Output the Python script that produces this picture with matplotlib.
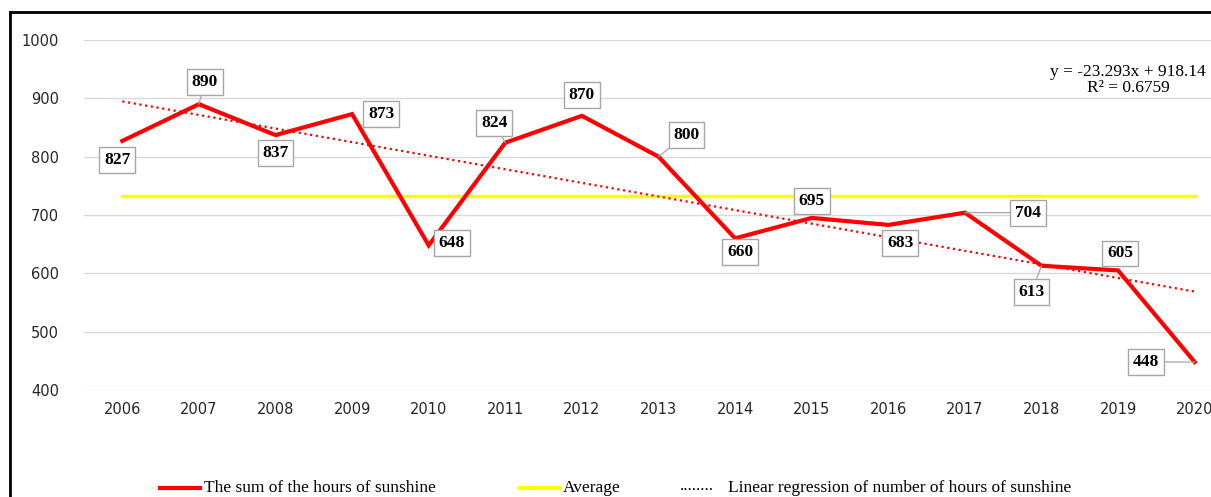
import matplotlib.pyplot as plt
from matplotlib.lines import Line2D

years = ["2006", "2007", "2008", "2009", "2010", "2011", "2012", "2013",
         "2014", "2015", "2016", "2017", "2018", "2019", "2020"]
sunshine = [827, 890, 837, 873, 648, 824, 870, 800, 660, 695, 683, 704, 613, 605, 448]
average = 731.8
trend_ends = [894.8, 568.7]  # regression line at 2006 and 2020
equation = "y = -23.293x + 918.14\nR² = 0.6759"
legend_labels = ["The sum of the hours of sunshine", "Average",
                 "Linear regression of number of hours of sunshine"]

# label offsets in pixels and whether a leader line is drawn
label_offsets = [(-5, -19), (6, 22), (0, -18), (29, 0), (23, 2), (-11, 20), (0, 21),
                 (28, 22), (5, -14), (0, 17), (12, -18), (63, 0), (-10, -26), (2, 17), (-49, 0)]
leaders = [False, True, False, False, False, True, False,
           True, False, False, False, True, True, False, True]

fig = plt.figure(figsize=(12.11, 4.97), dpi=100)
ax = fig.add_axes([84 / 1211, 1 - 390 / 497, 1149 / 1211, 350 / 497])

x = list(range(len(years)))
ax.plot(x, sunshine, color="#ff0000", lw=3, zorder=4, solid_joinstyle="miter")
ax.plot([x[0], x[-1]], [average, average], color="#ffff00", lw=2.5, zorder=3)
ax.plot([x[0], x[-1]], trend_ends, color="#ff0000", lw=1.6, ls=(0, (1, 1.6)), zorder=3)

for i, v in enumerate(sunshine):
    dx, dy = label_offsets[i]
    arrow = dict(arrowstyle="-", color="#a6a6a6", lw=0.9, shrinkA=0, shrinkB=0) if leaders[i] else None
    ax.annotate(str(v), (x[i], v), xytext=(dx, dy), textcoords="offset pixels",
                ha="center", va="center", fontsize=12.5, fontweight="bold",
                family="Liberation Serif", zorder=6, arrowprops=arrow,
                bbox=dict(boxstyle="square,pad=0.28", fc="white", ec="#a6a6a6", lw=1))

ax.set_xlim(-0.5, 14.5)
ax.set_ylim(400, 1000)
ax.set_yticks(range(400, 1001, 100))
ax.set_xticks(x)
ax.set_xticklabels(years)
ax.tick_params(length=0, labelsize=10.5, labelcolor="#262626", pad=9)
ax.tick_params(axis="y", pad=18)
ax.grid(axis="y", color="#d9d9d9", lw=1)
ax.set_axisbelow(True)
for s in ax.spines.values():
    s.set_visible(False)

fig.text(1128 / 1211, 1 - 80 / 497, equation, ha="center", va="center",
         fontsize=12.5, family="Liberation Serif", linespacing=0.95)

# figure frame (left and top edges)
fig.add_artist(Line2D([10 / 1211, 10 / 1211], [0, 1 - 12 / 497], color="black", lw=2))
fig.add_artist(Line2D([10 / 1211, 1], [1 - 12 / 497, 1 - 12 / 497], color="black", lw=2))

# legend at bottom
ly = 1 - 488 / 497
fig.add_artist(Line2D([160 / 1211, 200 / 1211], [ly, ly], color="#ff0000", lw=3))
fig.text(204 / 1211, ly, legend_labels[0], va="center", fontsize=12.5, family="Liberation Serif")
fig.add_artist(Line2D([520 / 1211, 560 / 1211], [ly, ly], color="#ffff00", lw=3))
fig.text(563 / 1211, ly, legend_labels[1], va="center", fontsize=12.5, family="Liberation Serif")
fig.text(680 / 1211, ly + 0.004, "........", va="center", fontsize=12.5, family="Liberation Serif")
fig.text(728 / 1211, ly, legend_labels[2], va="center", fontsize=12.5, family="Liberation Serif")

fig.savefig("out.png", dpi=100)
